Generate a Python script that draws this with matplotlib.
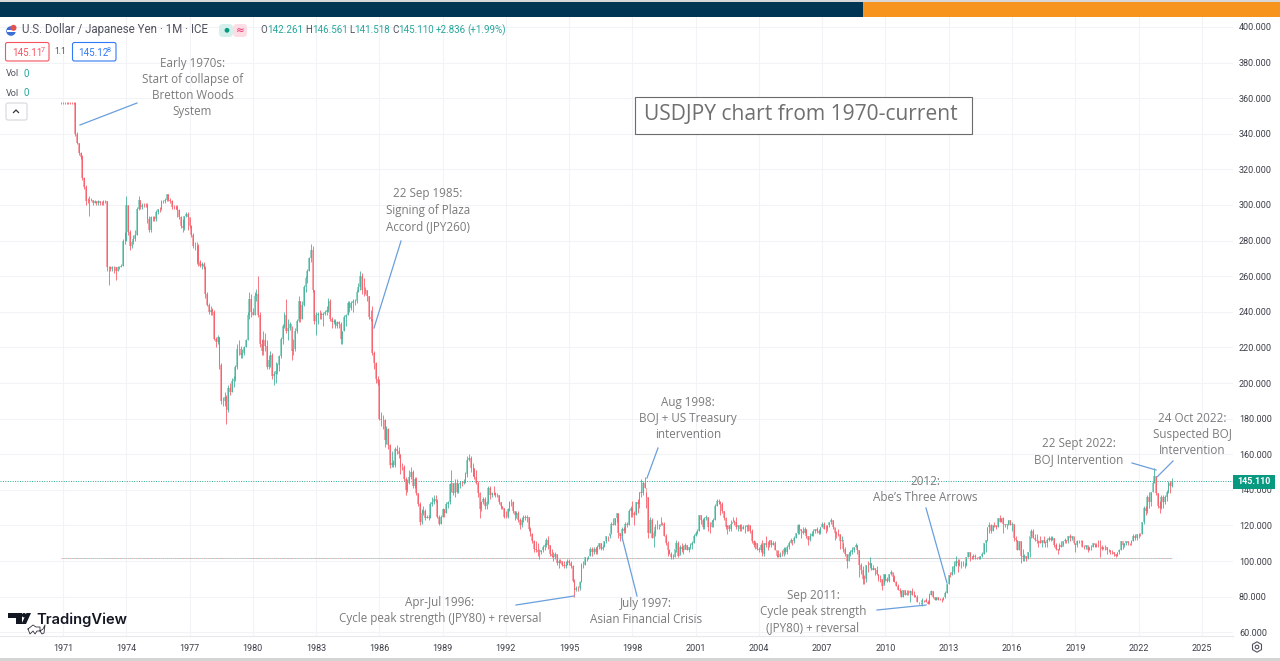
"""
USDJPY monthly candles 1970-2023, TradingView screenshot with hand annotations.
"""

import matplotlib
matplotlib.use("Agg")
import matplotlib.pyplot as plt
from matplotlib.patches import Rectangle, FancyBboxPatch, Circle, Polygon, RegularPolygon

# monthly bars, first bar is Dec 1970, one line per year
closes = [
    357.5,
    357.5, 357.5, 357.5, 357.5, 357.5, 357.5, 357.5, 340, 335, 329, 327, 315,
    310, 302, 302, 303, 303, 301, 302, 301, 302, 301, 301, 302,
    302, 265, 265, 264, 265, 265, 263, 265, 265, 266, 280, 280,
    300, 285, 277, 279, 281, 283, 298, 303, 299, 300, 300, 300,
    292, 286, 293, 293, 292, 296, 298, 298, 302, 302, 303, 306,
    303, 302, 299, 299, 299, 297, 293, 288, 287, 294, 295, 293,
    288, 283, 277, 277, 277, 268, 266, 267, 265, 250, 244, 240,
    241, 240, 225, 223, 226, 210, 190, 190, 192, 185, 197, 195,
    201, 202, 209, 219, 219, 216, 217, 220, 224, 238, 247, 240,
    238, 249, 250, 238, 222, 218, 224, 221, 209, 213, 216, 204,
    205, 207, 210, 215, 225, 232, 238, 229, 231, 233, 218, 219,
    229, 235, 246, 236, 244, 254, 259, 263, 270, 275, 252, 235,
    238, 239, 239, 238, 239, 240, 241, 246, 236, 234, 235, 232,
    234, 233, 225, 229, 237, 238, 245, 242, 245, 246, 246, 251,
    254, 260, 252, 252, 252, 249, 237, 236, 217, 211, 202, 200,
    180, 179, 179, 168, 174, 165, 154, 155, 154, 163, 162, 160,
    153, 153, 146, 140, 144, 147, 150, 142, 146, 138, 132, 122,
    127, 128, 124, 125, 124, 132, 133, 135, 134, 125, 121, 125,
    129, 127, 132, 133, 143, 144, 138, 144, 139, 143, 144, 144,
    145, 149, 157, 158, 152, 152, 147, 144, 138, 129, 133, 135,
    131, 133, 141, 137, 138, 138, 137, 137, 133, 131, 130, 125,
    125, 129, 133, 133, 128, 126, 127, 123, 120, 123, 125, 124,
    125, 118, 115, 111, 107, 106, 105, 105, 106, 108, 109, 112,
    109, 104, 103, 102, 104, 99, 100, 100, 98, 97, 98, 100,
    99, 97, 89, 84, 85, 85, 88, 98, 98, 102, 102, 103,
    107, 105, 107, 105, 108, 110, 107, 108, 111, 114, 114, 116,
    121, 120, 124, 127, 116, 114, 118, 117, 121, 120, 128, 130,
    127, 126, 133, 132, 139, 138, 144, 141, 136, 116, 123, 113,
    116, 119, 119, 119, 121, 121, 114, 110, 106, 104, 102, 102,
    107, 110, 103, 108, 107, 106, 109, 106, 108, 109, 110, 114,
    116, 117, 126, 123, 119, 124, 125, 119, 119, 122, 123, 131,
    134, 133, 132, 128, 124, 119, 120, 118, 121, 122, 122, 119,
    120, 118, 118, 119, 119, 120, 120, 117, 111, 109, 110, 107,
    106, 109, 104, 110, 109, 109, 112, 109, 110, 106, 103, 102,
    104, 104, 107, 105, 108, 110, 112, 111, 113, 116, 120, 118,
    117, 116, 118, 114, 112, 114, 115, 117, 118, 117, 116, 119,
    121, 118, 118, 120, 122, 123, 119, 116, 115, 115, 111, 112,
    107, 104, 100, 104, 105, 106, 108, 109, 106, 98, 95, 90,
    90, 98, 98, 99, 95, 96, 95, 93, 90, 90, 86, 93,
    90, 89, 93, 94, 91, 88, 86, 84, 83, 80, 84, 81,
    82, 82, 83, 81, 81, 80, 77, 77, 77, 78, 78, 77,
    76, 81, 83, 80, 78, 80, 78, 78, 78, 80, 82, 87,
    92, 92, 94, 97, 100, 99, 98, 98, 98, 98, 102, 105,
    102, 102, 103, 102, 102, 101, 103, 104, 110, 112, 119, 120,
    117, 120, 120, 119, 124, 122, 124, 121, 120, 121, 123, 120,
    121, 113, 112, 106, 111, 103, 102, 103, 101, 105, 114, 117,
    113, 112, 111, 111, 110, 112, 110, 110, 112, 113, 112, 113,
    109, 107, 106, 109, 108, 111, 112, 111, 114, 113, 114, 110,
    109, 111, 111, 111, 108, 108, 109, 106, 108, 108, 110, 109,
    108, 108, 108, 107, 108, 108, 106, 106, 105, 105, 104, 103,
    105, 106, 111, 109, 110, 111, 110, 110, 111, 114, 113, 115,
    115, 115, 122, 130, 128, 136, 133, 139, 144, 148, 138, 131,
    130, 136, 133, 136, 139, 144, 142.26, 145.11,
]

highs = [
    358,
    358, 358, 358, 358, 358, 358, 358, 358, 341, 335, 330, 328,
    316, 311, 304, 305, 304, 303, 303, 302, 303, 302, 302, 303,
    303, 302, 266, 266, 266, 266, 265, 266, 266, 267, 281, 285,
    305, 300, 286, 280, 283, 286, 299, 305, 303, 301, 301, 301,
    301, 294, 294, 294, 294, 297, 298, 299, 303, 303, 304, 306,
    306, 304, 303, 300, 300, 300, 298, 294, 292, 294, 296, 296,
    293, 289, 284, 279, 279, 278, 269, 268, 268, 266, 251, 245,
    243, 242, 241, 226, 227, 226, 211, 192, 195, 193, 199, 200,
    203, 204, 210, 222, 224, 221, 219, 221, 225, 240, 251, 250,
    242, 251, 253, 260, 240, 225, 229, 228, 224, 216, 218, 217,
    207, 212, 211, 216, 226, 233, 240, 247, 236, 234, 232, 225,
    231, 236, 249, 246, 246, 255, 260, 264, 271, 278, 277, 252,
    240, 240, 241, 240, 240, 241, 243, 248, 247, 237, 236, 236,
    235, 235, 234, 229, 238, 239, 246, 246, 246, 247, 247, 252,
    256, 263, 262, 259, 254, 252, 249, 241, 243, 218, 212, 204,
    202, 184, 182, 180, 176, 175, 166, 162, 157, 164, 165, 164,
    160, 155, 154, 147, 146, 151, 153, 151, 147, 147, 138, 133,
    129, 131, 129, 126, 126, 133, 136, 137, 137, 135, 126, 126,
    130, 129, 133, 134, 144, 151, 144, 146, 146, 144, 145, 145,
    146, 150, 159, 160, 159, 155, 152, 151, 145, 139, 134, 136,
    136, 134, 142, 142, 139, 142, 139, 138, 137, 133, 131, 130,
    128, 130, 134, 135, 134, 128, 128, 128, 124, 125, 126, 126,
    126, 125, 119, 116, 112, 111, 110, 107, 106, 109, 110, 113,
    114, 109, 107, 105, 105, 104, 101, 101, 100, 100, 100, 101,
    101, 100, 98, 90, 86, 86, 89, 99, 100, 102, 102, 103,
    108, 108, 108, 108, 109, 110, 110, 109, 111, 114, 114, 116,
    122, 124, 124, 127, 127, 116, 119, 119, 122, 122, 129, 131,
    134, 128, 133, 135, 139, 146, 145, 147, 139, 136, 125, 124,
    117, 121, 123, 121, 125, 122, 122, 115, 111, 107, 105, 104,
    107, 112, 111, 109, 110, 109, 110, 109, 108, 110, 111, 115,
    117, 118, 126, 126, 124, 125, 126, 125, 122, 123, 124, 132,
    135, 135, 134, 133, 128, 125, 120, 120, 123, 125, 123, 125,
    120, 121, 121, 120, 120, 120, 121, 120, 118, 112, 111, 110,
    108, 110, 112, 110, 114, 111, 112, 112, 111, 111, 106, 106,
    105, 106, 108, 108, 109, 111, 113, 112, 114, 116, 121, 121,
    118, 119, 119, 118, 114, 116, 117, 118, 118, 119, 118, 119,
    122, 122, 120, 120, 122, 124, 123, 119, 117, 118, 115, 114,
    110, 108, 104, 105, 106, 108, 108, 110, 109, 106, 99, 97,
    92, 98, 100, 102, 99, 98, 96, 97, 93, 92, 90, 93,
    93, 91, 93, 95, 94, 92, 89, 87, 85, 84, 84, 84,
    84, 84, 84, 85, 83, 81, 81, 77, 77, 79, 78, 79,
    78, 82, 84, 83, 80, 80, 80, 79, 79, 80, 83, 87,
    92, 94, 97, 100, 103, 101, 101, 100, 100, 99, 102, 105,
    105, 103, 104, 104, 102, 102, 103, 105, 110, 112, 119, 122,
    121, 120, 122, 120, 124, 126, 124, 125, 121, 121, 123, 123,
    122, 121, 114, 112, 111, 111, 107, 104, 103, 105, 114, 118,
    118, 115, 115, 112, 114, 112, 114, 111, 113, 114, 114, 114,
    113, 110, 107, 110, 111, 111, 113, 112, 114, 115, 114, 114,
    110, 112, 112, 112, 112, 109, 109, 109, 108, 109, 110, 110,
    110, 112, 112, 109, 108, 109, 108, 107, 106, 106, 105, 104,
    105, 107, 111, 110, 110, 111, 111, 110, 112, 115, 115, 115,
    116, 116, 122, 131, 131, 137, 139, 139, 145, 152, 148, 138,
    134, 137, 137, 137, 140, 145, 145, 146.56,
]

lows = [
    357,
    357, 357, 357, 357, 357, 357, 357, 339, 334, 328, 326, 314,
    309, 300, 301, 294, 302, 300, 301, 300, 300, 300, 300, 300,
    301, 263, 255, 263, 263, 262, 258, 263, 264, 265, 266, 278,
    280, 283, 275, 276, 278, 280, 283, 297, 298, 298, 299, 299,
    290, 285, 285, 291, 291, 291, 295, 296, 297, 301, 301, 302,
    302, 301, 298, 298, 298, 293, 292, 287, 285, 286, 293, 286,
    287, 282, 276, 275, 267, 266, 265, 264, 264, 248, 243, 239,
    238, 238, 224, 220, 222, 208, 188, 187, 187, 177, 184, 193,
    195, 198, 201, 208, 216, 214, 214, 216, 220, 224, 236, 237,
    238, 238, 246, 237, 220, 216, 216, 218, 208, 208, 209, 202,
    199, 200, 205, 207, 214, 222, 231, 228, 224, 230, 213, 216,
    218, 228, 234, 234, 236, 243, 251, 256, 263, 268, 251, 233,
    227, 233, 236, 236, 232, 238, 238, 240, 235, 231, 233, 231,
    231, 231, 222, 222, 229, 232, 238, 240, 241, 240, 244, 245,
    251, 252, 250, 249, 250, 246, 236, 235, 216, 208, 200, 199,
    179, 176, 174, 164, 166, 163, 152, 153, 153, 153, 160, 158,
    149, 151, 145, 137, 139, 143, 146, 141, 141, 137, 131, 120,
    121, 126, 123, 124, 123, 124, 131, 132, 133, 124, 120, 121,
    125, 125, 127, 130, 132, 139, 137, 136, 138, 138, 141, 142,
    143, 144, 147, 156, 150, 148, 146, 143, 136, 124, 128, 132,
    129, 129, 132, 135, 136, 137, 136, 136, 132, 129, 129, 124,
    124, 124, 128, 131, 127, 123, 124, 122, 118, 119, 122, 123,
    122, 117, 114, 110, 105, 105, 103, 101, 104, 105, 106, 108,
    107, 103, 102, 100, 101, 98, 96, 99, 97, 96, 96, 98,
    98, 96, 88, 80, 83, 83, 84, 88, 96, 98, 100, 101,
    103, 103, 104, 104, 104, 107, 106, 106, 108, 110, 111, 113,
    115, 120, 120, 122, 113, 111, 112, 116, 116, 119, 120, 125,
    125, 120, 126, 127, 130, 136, 137, 141, 130, 113, 116, 113,
    108, 114, 118, 118, 120, 120, 114, 109, 103, 104, 101, 101,
    102, 105, 102, 104, 105, 104, 107, 106, 105, 107, 107, 110,
    114, 115, 117, 121, 118, 118, 123, 117, 116, 119, 119, 123,
    131, 132, 126, 127, 123, 118, 115, 117, 117, 122, 120, 118,
    117, 117, 117, 118, 116, 117, 117, 116, 110, 108, 107, 106,
    105, 105, 103, 103, 108, 106, 108, 108, 109, 106, 102, 102,
    102, 103, 103, 104, 104, 107, 110, 109, 110, 113, 115, 115,
    113, 115, 116, 113, 109, 111, 114, 114, 116, 116, 115, 115,
    119, 118, 116, 117, 119, 121, 118, 112, 113, 114, 107, 111,
    105, 103, 96, 100, 103, 104, 105, 108, 104, 91, 93, 87,
    87, 88, 94, 96, 95, 95, 92, 92, 89, 88, 84, 87,
    89, 88, 88, 92, 89, 88, 86, 84, 82, 80, 80, 81,
    81, 81, 77, 81, 80, 80, 77, 76, 76, 75, 77, 77,
    76, 76, 81, 79, 78, 78, 78, 78, 77, 78, 79, 82,
    87, 91, 92, 93, 97, 94, 97, 96, 97, 96, 97, 102,
    100, 101, 101, 101, 101, 101, 101, 102, 104, 105, 111, 116,
    116, 117, 119, 118, 119, 122, 122, 116, 119, 118, 120, 120,
    117, 111, 111, 106, 106, 99, 100, 100, 100, 101, 102, 113,
    113, 111, 110, 108, 110, 108, 110, 108, 108, 111, 111, 112,
    108, 106, 104, 106, 108, 109, 110, 110, 110, 111, 112, 110,
    105, 108, 110, 111, 108, 107, 107, 105, 106, 106, 108, 108,
    108, 108, 102, 106, 107, 106, 104, 105, 104, 104, 103, 102,
    103, 104, 106, 107, 108, 109, 109, 109, 109, 111, 112, 112,
    113, 114, 115, 121, 126, 127, 130, 131, 139, 144, 137, 130,
    127, 129, 130, 132, 134, 138, 138, 141.52,
]

x_years = [1971, 1974, 1977, 1980, 1983, 1986, 1989, 1992, 1995, 1998,
           2001, 2004, 2007, 2010, 2013, 2016, 2019, 2022, 2025]
y_prices = [60, 80, 100, 120, 140, 160, 180, 200, 220, 240, 260, 280, 300,
            320, 340, 360, 380, 400]
range_low_price = 101.7

UP, UP_PALE = "#38ab93", "#97d6c7"
DOWN, DOWN_PALE = "#f7525f", "#f9a6ad"
NOTE_GREY = "#7b7b7b"
NOTE_BLUE = "#6a9fdc"
HEAD_TEXT = "#50535e"
TEAL = "#26a69a"

W, H = 1280, 661
SANS = "Open Sans"
UI = "Roboto"

fig = plt.figure(figsize=(W / 100, H / 100), dpi=100, facecolor="white")

# ── price pane ───────────────────────────────────────────────────────────────
ax = fig.add_axes([0, (H - 636) / H, 1233 / W, (636 - 17) / H])
ax.set_xlim(1968.01, 2026.48)
ax.set_ylim(57.9, 405.6)
ax.set_xticks(x_years)
ax.set_xticklabels([str(y) for y in x_years], fontsize=6.5, family=UI, color="#3c3f48")
ax.set_yticks(y_prices)
ax.set_yticklabels([f"{p}.000" for p in y_prices], fontsize=6.5, family=UI, color="#3c3f48")
ax.yaxis.tick_right()
ax.tick_params(axis="x", length=0, pad=6)
ax.tick_params(axis="y", length=0, pad=4.3)
ax.grid(True, color="#f1f3f7", linewidth=0.8)
ax.set_axisbelow(True)
for side in ["top", "left", "right"]:
    ax.spines[side].set_visible(False)
ax.spines["bottom"].set_color("#e6e8ee")
ax.spines["bottom"].set_linewidth(0.8)

dates = [1970 + 11 / 12 + i / 12 for i in range(len(closes))]
opens = [closes[0]] + closes[:-1]
for d, o, h, l, c in zip(dates, opens, highs, lows, closes):
    up = c > o
    ax.bar(d, abs(c - o), bottom=min(o, c), width=0.085, linewidth=0,
           color=UP_PALE if up else DOWN_PALE, zorder=3)
    ax.vlines(d, l, h, color=UP if up else DOWN, linewidth=0.55, zorder=4)

# last price and the range floor drawn by the author
ax.axhline(closes[-1], color=TEAL, linewidth=0.7, linestyle=(0, (1, 1.5)), zorder=2)
ax.plot([dates[0], dates[-1]], [range_low_price, range_low_price], color="#f7a6ad",
        linewidth=0.7, linestyle=(0, (2, 2)), zorder=2)
ax.plot([dates[0], dates[-1]], [range_low_price, range_low_price], color="#9fd8cf",
        linewidth=0.7, linestyle=(2, (2, 2)), zorder=2)

# ── overlay in screen pixels ─────────────────────────────────────────────────
ov = fig.add_axes([0, 0, 1, 1], zorder=5)
ov.set_xlim(0, W)
ov.set_ylim(H, 0)
ov.set_axis_off()
ov.patch.set_alpha(0)


def box(x0, y0, x1, y1, color):
    ov.add_patch(Rectangle((x0, y0), x1 - x0, y1 - y0, facecolor=color, edgecolor="none"))


def rounded(x0, y0, x1, y1, edge, face="white", r=2.0, lw=0.8):
    ov.add_patch(FancyBboxPatch((x0, y0), x1 - x0, y1 - y0, boxstyle=f"round,pad=0,rounding_size={r}",
                                facecolor=face, edgecolor=edge, linewidth=lw))


def label(x, y, text, color=HEAD_TEXT, size=6.3, ha="left", **kw):
    ov.text(x, y, text, color=color, fontsize=size, ha=ha, va="center", family=kw.pop("family", UI), **kw)


def note(cx, ys, lines, end_a, end_b):
    for y, line in zip(ys, lines):
        ov.text(cx, y + 4, line, color=NOTE_GREY, fontsize=8.35, ha="center", va="baseline", family=SANS)
    ov.plot([end_a[0], end_b[0]], [end_a[1], end_b[1]], color=NOTE_BLUE, linewidth=0.9)


# browser-ish strips around the screenshot
box(0, 0, W, 2, "#d8d8d8")
box(0, 2, 863, 16.5, "#003554")
box(863, 2, W, 16.5, "#f7941d")
box(0, 658, W, H, "#d4d4d4")

# header
ov.add_patch(Circle((11, 31), 4.8, facecolor="#3a6fd8", edgecolor="none"))
ov.add_patch(Rectangle((6.5, 29.5), 9, 2, facecolor="white", edgecolor="none"))
ov.add_patch(Circle((13.5, 27.8), 3, facecolor="#e8504a", edgecolor="none"))
label(22, 30, "U.S. Dollar / Japanese Yen · 1M · ICE", size=8.3)
rounded(219, 24, 233, 37, "none", "#d5f0ea", r=4, lw=0)
rounded(233, 24, 247, 37, "none", "#fbdde3", r=4, lw=0)
ov.add_patch(Circle((227, 30.3), 2.4, facecolor="#089981", edgecolor="none"))
label(240, 30, "≈", color="#e91e63", size=7.5, ha="center", family="DejaVu Sans")
for x, key in [(260, "O"), (305, "H"), (349, "L"), (392, "C")]:
    label(x, 30, key, size=7)
for x, val in [(267.5, "142.261"), (312, "146.561"), (354.5, "141.518"), (398, "145.110"),
               (436, "+2.836"), (467, "(+1.99%)")]:
    label(x, 30, val, color=TEAL, size=7)

rounded(5.5, 42.5, 49, 61, "#f7525f")
label(12, 52.5, "145.11", color="#f7525f", size=7)
label(40.5, 50, "7", color="#f7525f", size=5.2)
label(60.5, 52, "1.1", size=6.2, ha="center")
rounded(72.5, 42.5, 116, 61, "#3179f5")
label(78, 52.5, "145.12", color="#3179f5", size=7)
label(106.5, 50, "8", color="#3179f5", size=5.2)
for y in (74, 93):
    label(6, y, "Vol", size=6.6)
    label(24, y, "0", color=TEAL, size=7)
rounded(6, 103, 27, 120, "#d5d7dd")
ov.plot([13.5, 16, 18.5], [112.5, 110, 112.5], color="#30333c", linewidth=0.9)

# title box
ov.add_patch(Rectangle((634.5, 96.5), 337, 37, facecolor="white", edgecolor="#6b6b6b", linewidth=0.8))
ov.text(800.5, 120, "USDJPY chart from 1970-current", color="#6f6f6f", fontsize=15.1,
        ha="center", va="baseline", family=SANS)

# annotations
note(192.5, [63, 79, 95, 111], ["Early 1970s:", "Start of collapse of", "Bretton Woods", "System"],
     (80, 125), (137, 103))
note(428, [193, 210, 226], ["22 Sep 1985:", "Signing of Plaza", "Accord (JPY260)"],
     (374, 328), (401, 241))
note(688, [402, 418, 434], ["Aug 1998:", "BOJ + US Treasury", "intervention"],
     (647, 478), (658, 448))
note(440, [602, 618], ["Apr-Jul 1996:", "Cycle peak strength (JPY80) + reversal"],
     (516, 605), (574, 596))
note(646, [603, 619], ["July 1997:", "Asian Financial Crisis"],
     (622, 537), (637, 596))
note(813, [595, 611, 627], ["Sep 2011:", "Cycle peak strength", "(JPY80) + reversal"],
     (877, 610), (926, 605))
note(925, [481, 497], ["2012:", "Abe’s Three Arrows"],
     (926, 508), (947, 583))
note(1079, [443, 459], ["22 Sept 2022:", "BOJ Intervention"],
     (1132, 463), (1156, 470))
note(1192, [418, 434, 450], ["24 Oct 2022:", "Suspected BOJ", "Intervention"],
     (1157, 477), (1173, 461))

# last price tag
box(1233, 475, 1275, 488.5, "#089981")
label(1254, 481.5, "145.110", color="white", size=6.5, ha="center", fontweight="bold")

# settings cog under the price scale
ov.add_patch(RegularPolygon((1257, 647), 6, radius=5.2, facecolor="none", edgecolor="#50535e", linewidth=0.8))
ov.add_patch(Circle((1257, 647), 1.8, facecolor="none", edgecolor="#50535e", linewidth=0.8))

# TradingView logo
LOGO = "#131722"
ov.add_patch(Polygon([(8, 613), (21.5, 613), (21.5, 624), (15.5, 624), (15.5, 617.5), (8, 617.5)],
                     facecolor=LOGO, edgecolor="none"))
ov.add_patch(Circle((24, 615.2), 2.2, facecolor=LOGO, edgecolor="none"))
ov.add_patch(Polygon([(26.5, 613), (31, 613), (26, 624), (21.5, 624)], facecolor=LOGO, edgecolor="none"))
ov.text(36, 619.5, "TradingView", color=LOGO, fontsize=10.6, ha="left", va="center",
        family="Inter", fontweight="semibold")
ov.plot([28, 33, 36, 40, 40, 43, 45, 44, 42, 40, 37, 35, 33, 30, 28],
        [629, 625, 627, 627, 631, 629, 625, 633, 634, 631, 631, 634, 631, 634, 629],
        color="#30333c", linewidth=0.6)

fig.savefig("out.png", dpi=100, facecolor="white")
plt.close(fig)
